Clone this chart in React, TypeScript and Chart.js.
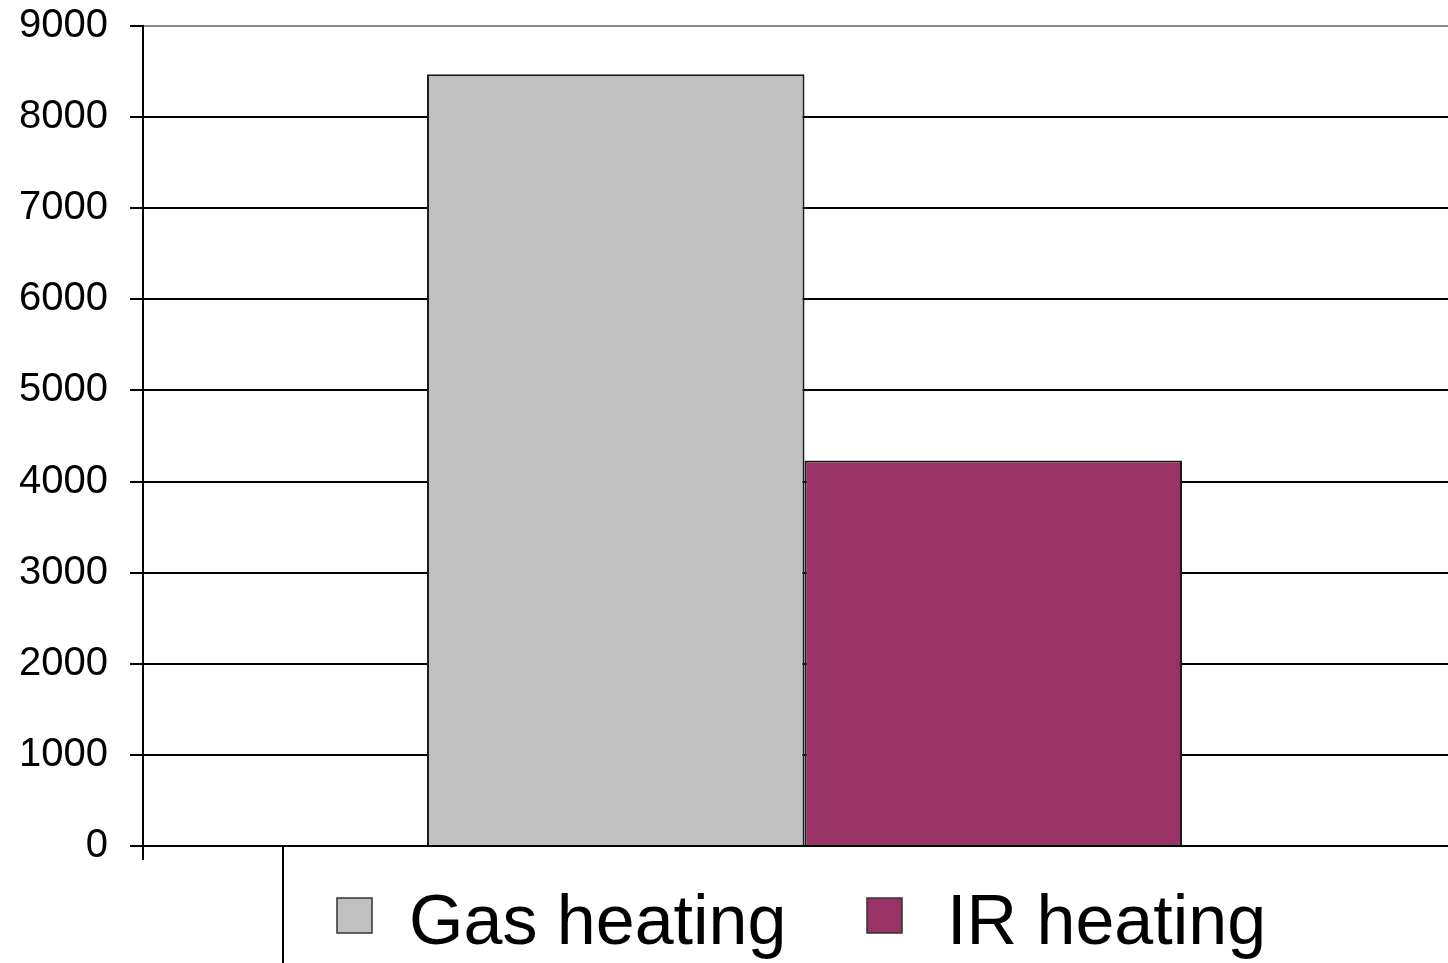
import React, { useEffect, useRef } from "react";
import { Chart, registerables } from "chart.js";

Chart.register(...registerables);

const categories = [""];
const seriesLabels = ["Gas heating", "IR heating"];
const gasValues = [8470];
const irValues = [4230];
const seriesColors = ["#C0C0C0", "#993366"];
const yTicks = [0, 1000, 2000, 3000, 4000, 5000, 6000, 7000, 8000, 9000];

const FONT = '"Liberation Sans", Arial, sans-serif';

const legendBoxPlugin = {
  id: "legendBox",
  afterDraw(chart: any) {
    const ctx = chart.ctx;
    const area = chart.chartArea;
    const yZero = chart.scales.y.getPixelForValue(0);
    ctx.save();
    const bx = area.left + 140;
    ctx.fillStyle = "#ffffff";
    ctx.fillRect(bx, yZero, chart.width, chart.height);
    ctx.strokeStyle = "#000000";
    ctx.lineWidth = 2;
    ctx.beginPath();
    ctx.moveTo(bx, chart.height + 5);
    ctx.lineTo(bx, yZero);
    ctx.lineTo(chart.width + 5, yZero);
    ctx.stroke();

    const squares = [337, 867];
    const textX = [409, 947];
    chart.data.datasets.forEach((ds: any, i: number) => {
      ctx.fillStyle = ds.backgroundColor;
      ctx.fillRect(squares[i], 898, 35, 35);
      ctx.strokeStyle = "#333333";
      ctx.lineWidth = 1.5;
      ctx.strokeRect(squares[i], 898, 35, 35);
      ctx.fillStyle = "#000000";
      ctx.font = `70px ${FONT}`;
      ctx.textBaseline = "alphabetic";
      ctx.textAlign = "left";
      ctx.fillText(ds.label, textX[i], 944);
    });
    ctx.restore();
  },
};

export default function App() {
  const ref = useRef<HTMLCanvasElement | null>(null);

  useEffect(() => {
    if (!ref.current) return;
    const chart = new Chart(ref.current, {
      type: "bar",
      data: {
        labels: categories,
        datasets: [
          {
            label: seriesLabels[0],
            data: gasValues,
            backgroundColor: seriesColors[0],
            borderColor: "#1a1a1a",
            borderWidth: 2,
          },
          {
            label: seriesLabels[1],
            data: irValues,
            backgroundColor: seriesColors[1],
            borderColor: "#1a1a1a",
            borderWidth: 2,
          },
        ],
      },
      options: {
        animation: false,
        responsive: false,
        maintainAspectRatio: false,
        layout: { padding: { top: 26, left: 0, right: 0, bottom: 0 } },
        datasets: {
          bar: { categoryPercentage: 0.5707, barPercentage: 1 },
        },
        plugins: {
          legend: { display: false },
          tooltip: { enabled: false },
        },
        scales: {
          x: {
            offset: true,
            grid: {
              display: true,
              drawOnChartArea: false,
              drawTicks: true,
              tickLength: 14,
              color: "#000000",
              lineWidth: 2,
            },
            border: { display: true, color: "#000000", width: 2 },
            ticks: { display: false },
            afterFit: (scale: any) => {
              scale.height = 117;
            },
          },
          y: {
            min: 0,
            max: 9000,
            afterBuildTicks: (scale: any) => {
              scale.ticks = yTicks.map((v) => ({ value: v }));
            },
            grid: {
              color: (c: any) => (c.tick && c.tick.value === 9000 ? "#8a8a8a" : "#000000"),
              lineWidth: 2,
              drawTicks: true,
              tickLength: 13,
              tickColor: "#000000",
            },
            border: { display: true, color: "#000000", width: 2 },
            ticks: {
              padding: 22,
              color: "#000000",
              font: { family: FONT, size: 40 },
              callback: (v: any) => String(v),
            },
            afterFit: (scale: any) => {
              scale.width = 143;
              scale.paddingTop = 0;
              scale.paddingBottom = 0;
            },
          },
        },
      },
      plugins: [legendBoxPlugin],
    });
    return () => chart.destroy();
  }, []);

  return (
    <div
      style={{
        position: "fixed",
        left: 0,
        top: 0,
        width: 1448,
        height: 963,
        overflow: "hidden",
        background: "#ffffff",
      }}
    >
      <canvas ref={ref} width={1466} height={963} style={{ display: "block" }} />
    </div>
  );
}
